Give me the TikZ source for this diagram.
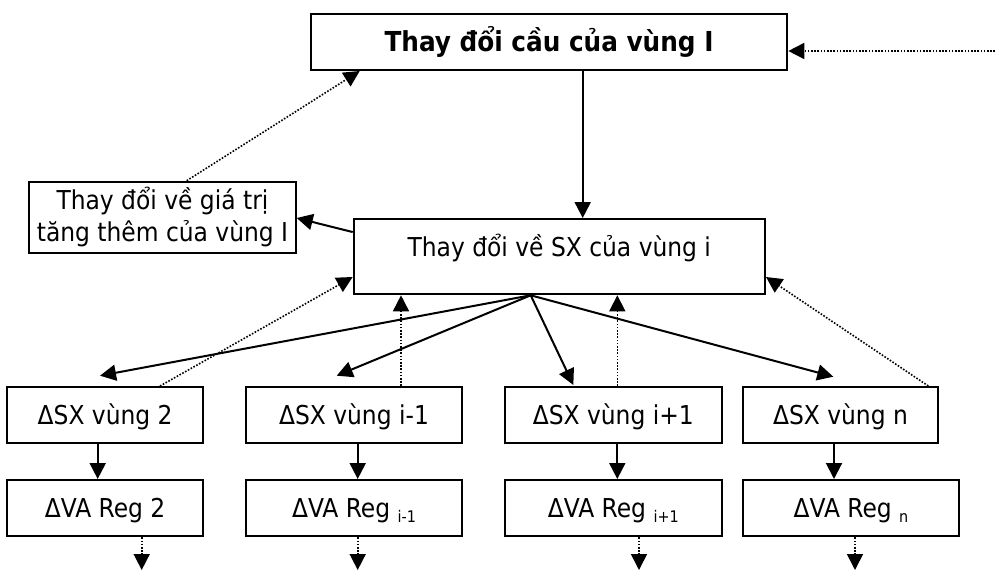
\documentclass[tikz,border=0pt]{standalone}
\usepackage{fontspec}
\setmainfont{DejaVu Sans Condensed}
\usetikzlibrary{arrows.meta,calc}
\newcommand{\mysub}[1]{\raisebox{-5pt}{\fontsize{16}{16}\selectfont #1}}
\begin{document}
\begin{tikzpicture}[x=1pt,y=-1pt,
  box/.style={draw, line width=2pt, inner sep=0pt, align=center, font=\fontsize{26}{31.7}\selectfont},
  sbox/.style={box, text height=24.7pt, text depth=5.7pt},
  arr/.style={line width=2pt, -{Triangle[length=16pt,width=16pt]}},
  dot/.style={line width=1.6pt, dash pattern=on 1.6pt off 1.6pt, -{Triangle[length=16pt,width=16pt]}}]
\useasboundingbox (0,0) rectangle (995,570);
% nodes
\node[sbox, minimum width=476.6pt, minimum height=56.3pt, font=\fontsize{27.5}{30}\selectfont\bfseries, text height=26.1pt, text depth=6pt] (top) at (549,41.85) {Thay đổi cầu của vùng I};
\node[box, minimum width=411.3pt, minimum height=75.3pt, text height=12pt, text depth=12pt] (mid) at (559.35,256.65) {Thay đổi về SX của vùng i};
\node[box, minimum width=266.4pt, minimum height=71pt] (left) at (162.5,217.2) {Thay đổi về giá trị\\tăng thêm của vùng I};
\node[sbox, minimum width=195.7pt, minimum height=55.7pt] (sx1) at (105.15,414.85) {ΔSX vùng 2};
\node[sbox, minimum width=216.6pt, minimum height=55.7pt] (sx2) at (354,414.85) {ΔSX vùng i-1};
\node[sbox, minimum width=216.7pt, minimum height=55.7pt] (sx3) at (613.35,414.85) {ΔSX vùng i+1};
\node[sbox, minimum width=195.6pt, minimum height=55.7pt] (sx4) at (840.5,414.85) {ΔSX vùng n};
\node[sbox, minimum width=195.7pt, minimum height=56.3pt] (va1) at (105.15,508.15) {ΔVA Reg 2};
\node[sbox, minimum width=216.6pt, minimum height=56.3pt] (va2) at (354,508.15) {ΔVA Reg \mysub{i-1}};
\node[sbox, minimum width=216.7pt, minimum height=56.3pt] (va3) at (613.35,508.15) {ΔVA Reg \mysub{i+1}};
\node[sbox, minimum width=216.6pt, minimum height=56.3pt] (va4) at (851,508.15) {ΔVA Reg \mysub{n}};
% connectors
\coordinate (rin) at (995,51);
\draw[dot] (rin) -- (rin -| top.east);
\coordinate (vx) at (582.7,0);
\draw[arr] (top.south -| vx) -- (mid.north -| vx);
\draw[arr] ($(mid.west)+(0,-24.6)$) -- ($(left.east)+(0,0.8)$);
\draw[dot] ($(left.north)+(24.2,0)$) -- ($(top.south west)+(50,0)$);
\coordinate (o) at ($(mid.south)+(-28.65,0)$);
\draw[arr] (o) -- ($(sx1.north)+(-5.15,-10.3)$);
\draw[arr] (o) -- ($(sx2.north)+(-17.3,-10.3)$);
\draw[arr] (o) -- ($(sx3.north)+(-40,-1)$);
\draw[arr] (o) -- ($(sx4.north)+(-7.2,-9.3)$);
\draw[dot] ($(sx1.north)+(54.85,0)$) -- ($(mid.west)+(0,20.35)$);
\coordinate (u2) at (401,0);
\draw[dot] (sx2.north -| u2) -- (mid.south -| u2);
\coordinate (u3) at (617.3,0);
\draw[dot] (sx3.north -| u3) -- (mid.south -| u3);
\draw[dot] ($(sx4.north)+(87.8,0)$) -- ($(mid.east)+(0,20.35)$);
\foreach \i/\x in {1/97.7,2/357.7,3/617.3,4/834}{
  \coordinate (d\i) at (\x,0);
  \draw[arr] (sx\i.south -| d\i) -- (va\i.north -| d\i);
}
\foreach \i/\x in {1/141.7,2/357.7,3/639,4/855}{
  \coordinate (e\i) at (\x,570);
  \draw[dot] (va\i.south -| e\i) -- (e\i);
}
\end{tikzpicture}
\end{document}
